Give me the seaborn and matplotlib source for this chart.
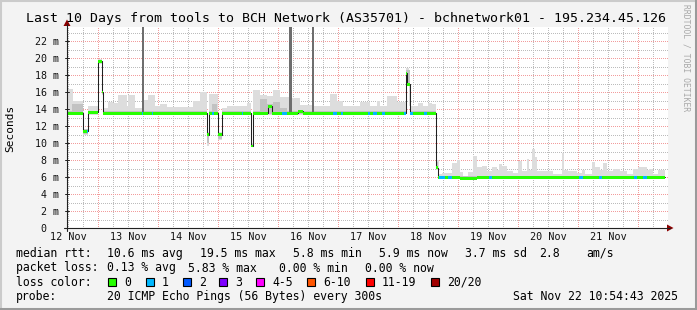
import numpy as np
import pandas as pd
import matplotlib
matplotlib.use("Agg")
import matplotlib.pyplot as plt
import seaborn as sns
from matplotlib.lines import Line2D
from matplotlib.patches import Rectangle, Polygon

# ---------------- data (hours since graph start, values in ms) ----------------
END_H = 239.0
median_t = [0, 6.5, 8.5, 12.5, 13.9, 14.5, 55.8, 56.8, 60.5, 61.9, 73.7, 74.5,
            80.5, 81.9, 92.4, 94.4, 135.6, 136.0, 137.0, 147.6, 148.5, 157.2, 164.0]
median_v = [13.5, 11.4, 13.6, 19.6, 16.0, 13.5, 11.0, 13.5, 11.0, 13.5, 9.65, 13.5,
            14.3, 13.5, 13.75, 13.5, 18.2, 16.9, 13.5, 7.1, 5.95, 5.85, 5.95]

loss1_start = [7.9, 30.0, 33.9, 58.0, 69.9, 86.0, 106.4, 109.6, 120.4, 122.4, 126.0,
               134.8, 137.2, 142.8, 148.8, 152.4, 168.8, 204.8, 212.8, 226.8, 230.4]
loss1_end = [8.5, 30.5, 34.5, 58.8, 70.5, 88.0, 108.0, 110.4, 121.0, 124.0, 127.2,
             135.6, 138.4, 144.0, 151.2, 154.0, 170.0, 206.4, 214.0, 228.0, 232.0]

smoke_hi_t = [0, 2.4, 6.5, 8.5, 12.5, 13.9, 14.5, 16.4, 18.4, 20.4, 24.0, 24.4, 27.2,
              30.4, 32.4, 35.2, 37.2, 40.0, 50.4, 53.2, 55.8, 56.8, 60.5, 61.9, 64.0,
              66.4, 72.0, 73.7, 74.5, 77.2, 80.0, 82.4, 85.2, 88.8, 93.2, 98.4, 105.2,
              108.0, 110.4, 117.2, 121.2, 124.0, 125.2, 128.0, 132.0, 135.6, 136.8,
              140.4, 142.4, 144.4, 146.0, 147.6, 148.8, 150.0, 154.0, 156.0, 157.2,
              158.4, 160.4, 162.4, 164.0, 166.0, 168.0, 170.0, 172.0, 172.8, 174.0,
              176.0, 178.4, 180.4, 182.0, 184.0, 184.8, 186.0, 187.2, 188.0, 194.4,
              198.0, 198.8, 200.4, 204.0, 206.0, 207.2, 210.0, 211.2, 213.2, 214.4,
              216.0, 218.4, 221.2, 224.0, 226.4, 228.4, 232.0, 232.8, 234.4, 236.4]
smoke_hi_v = [16.4, 14.9, 11.7, 14.3, 19.9, 16.4, 14.1, 14.8, 14.7, 15.7, 14.4, 15.6, 14.1,
              15.1, 15.6, 14.4, 14.6, 14.2, 15.0, 16.0, 11.3, 15.8, 11.3, 14.1, 14.4,
              14.3, 14.7, 10.0, 16.2, 15.6, 15.5, 16.2, 15.4, 15.3, 14.5, 14.3, 15.8,
              14.9, 14.3, 14.8, 14.4, 14.9, 14.4, 15.5, 14.8, 18.8, 14.3,
              14.7, 14.4, 14.7, 14.6, 8.0, 6.4, 6.5, 7.7, 8.0, 6.6,
              6.1, 6.6, 8.5, 7.2, 7.3, 6.7, 7.2, 6.8, 7.5, 7.3,
              6.7, 6.5, 7.9, 6.7, 8.1, 6.8, 9.35, 8.4, 6.7, 6.4,
              8.8, 6.8, 6.7, 6.5, 6.8, 6.4, 7.8, 7.2, 6.8, 7.6,
              6.7, 7.0, 6.7, 6.4, 7.0, 7.2, 6.8, 7.0, 6.4, 6.8]

smoke_lo_t = [0, 6.5, 8.5, 12.5, 13.9, 14.5, 55.8, 56.8, 60.5, 61.9, 73.7, 74.5,
              135.6, 137.0, 147.6, 148.5]
smoke_lo_v = [13.3, 10.9, 13.3, 19.3, 15.7, 13.3, 9.6, 13.3, 10.3, 13.3, 9.5, 13.3,
              16.7, 13.3, 6.8, 5.75]

mid_hi_t = [0, 2.0, 6.5, 8.5, 12.5, 13.9, 14.5, 55.8, 56.8, 58.0, 60.0, 60.5, 61.9,
            73.7, 74.5, 77.2, 80.0, 82.4, 85.2, 88.0, 135.6, 137.0, 147.6, 148.5]
mid_hi_v = [13.8, 14.6, 11.6, 13.8, 19.8, 16.2, 13.8, 11.2, 13.8, 14.6, 13.8, 11.2, 13.8,
            9.9, 13.8, 15.2, 14.6, 14.8, 14.1, 13.8, 18.6, 13.8, 7.8, 6.15]
mid_lo_t = [0, 6.5, 8.5, 12.5, 13.9, 14.5, 55.8, 56.8, 60.5, 61.9, 73.7, 74.5,
            135.6, 137.0, 147.6, 148.5]
mid_lo_v = [13.4, 11.1, 13.4, 19.4, 15.8, 13.4, 10.0, 13.4, 10.5, 13.4, 9.6, 13.4,
            16.8, 13.4, 6.9, 5.85]

# smoke columns whose upper pings go beyond the top of the graph
tall_start = [29.9, 88.7, 98.0]
tall_end = [30.8, 90.0, 98.8]
tall_bottom = [13.6, 13.6, 13.6]
tall_top = [24.0, 24.0, 24.0]

ytick_vals = [0, 2, 4, 6, 8, 10, 12, 14, 16, 18, 20, 22]
ytick_labels = ["0  ", "2 m", "4 m", "6 m", "8 m", "10 m", "12 m", "14 m", "16 m",
                "18 m", "20 m", "22 m"]
xtick_vals = [0.6, 24.6, 48.6, 72.6, 96.6, 120.6, 144.6, 168.6, 192.6, 216.6]
xtick_labels = ["12 Nov", "13 Nov", "14 Nov", "15 Nov", "16 Nov", "17 Nov",
                "18 Nov", "19 Nov", "20 Nov", "21 Nov"]

title = "Last 10 Days from tools to BCH Network (AS35701) - bchnetwork01 - 195.234.45.126"
rtt_items = ["median rtt:", "10.6 ms avg", "19.5 ms max", "5.8 ms min", "5.9 ms now",
             "3.7 ms sd", "2.8", "am/s"]
loss_items = ["packet loss:", "0.13 % avg", "5.83 % max", "0.00 % min", "0.00 % now"]
loss_labels = ["0", "1", "2", "3", "4-5", "6-10", "11-19", "20/20"]
loss_colors = ["#26ff00", "#00b8ff", "#0059ff", "#7e00ff", "#ff00ff", "#ff5500",
               "#ff0000", "#a10000"]
probe_items = ["probe:", "20 ICMP Echo Pings (56 Bytes) every 300s",
               "Sat Nov 22 10:54:43 2025"]

# ---------------- style ----------------
sns.set_style("white")
plt.rcParams['font.family'] = ['DejaVu Sans Mono', 'DejaVu Sans']

W, H = 697, 310
fig = plt.figure(figsize=(W / 100, H / 100), dpi=100, facecolor="#f3f3f3")


def fx(px):
    return px / W


def fy(py):
    return 1 - py / H


X0, X1, Y0, Y1 = 67, 668, 228, 27
PX_PER_H = 2.5
PX_PER_MS = 8.5
ax = fig.add_axes([fx(X0), fy(Y0), (X1 - X0) / W, (Y0 - Y1) / H])
ax.set_facecolor("white")
ax.set_xlim(0, (X1 - X0) / PX_PER_H)
ax.set_ylim(0, (Y0 - Y1) / PX_PER_MS)
for s in ax.spines.values():
    s.set_visible(False)

# grid (1px dots)
xmax = (X1 - X0) / PX_PER_H
minor_col = "#bcbcbc"
major_col = "#f29c9c"
dash = (0, (1, 2))
gkw = dict(lw=0.72, ls=dash, antialiased=False)
for k in range(0, 41):
    xv = 0.5 + 6 * k
    if xv < xmax and (k % 4) != 2:
        ax.axvline(xv, color=minor_col, zorder=0.5, **gkw)
for k in range(1, 24):
    if k % 2:
        ax.axhline(k, color=minor_col, zorder=0.5, **gkw)
for k in range(10):
    ax.axvline(12.5 + 24 * k, color=major_col, zorder=0.6, **gkw)
for yv in ytick_vals[1:]:
    ax.axhline(yv, color=major_col, zorder=0.6, **gkw)


def step_eval(tb, vb, grid):
    idx = np.searchsorted(np.asarray(tb), grid, side="right") - 1
    return np.asarray(vb, dtype=float)[idx]


grid = np.unique(np.concatenate([smoke_hi_t, smoke_lo_t, mid_hi_t, mid_lo_t,
                                 median_t, [END_H]]))
ax.fill_between(grid, step_eval(smoke_lo_t, smoke_lo_v, grid),
                step_eval(smoke_hi_t, smoke_hi_v, grid), step="post",
                color="#dddddd", lw=0, zorder=1)
ax.fill_between(grid, step_eval(mid_lo_t, mid_lo_v, grid),
                step_eval(mid_hi_t, mid_hi_v, grid), step="post",
                color="#c2c2c2", lw=0, zorder=1.1)
ax.bar(tall_start, np.array(tall_top) - np.array(tall_bottom),
       width=np.array(tall_end) - np.array(tall_start), bottom=tall_bottom,
       align="edge", color="#6e6e6e", lw=0, zorder=1.2)

# median dark line
df = pd.DataFrame({"h": median_t + [END_H], "v": median_v + [median_v[-1]]})
sns.lineplot(data=df, x="h", y="v", drawstyle="steps-post", color="#202020",
             lw=0.75, ax=ax, estimator=None, sort=False, zorder=2)

# coloured median bars
segs = np.unique(np.concatenate([median_t, loss1_start, loss1_end, [END_H]]))
seg_l = segs[:-1]
seg_w = np.diff(segs)
seg_v = step_eval(median_t, median_v, seg_l)
seg_c = []
for t in seg_l:
    c = loss_colors[0]
    for a, b in zip(loss1_start, loss1_end):
        if a <= t < b:
            c = loss_colors[1]
    seg_c.append(c)
half = 0.17
ax.bar(seg_l, 2 * half, width=seg_w, bottom=seg_v - half, align="edge",
       color=seg_c, lw=0, zorder=3)

# ticks
ax.set_yticks(ytick_vals)
ax.set_yticklabels(ytick_labels)
ax.set_xticks(xtick_vals)
ax.set_xticklabels(xtick_labels)
ax.tick_params(axis="y", length=0, pad=5.6, labelsize=7.2, labelcolor="#111111")
ax.tick_params(axis="x", length=0, pad=3.2, labelsize=7.3, labelcolor="#111111")
ax.set_xlabel("")
ax.set_ylabel("")

# axes lines and arrows (figure pixel coordinates)
axis_col = "#202020"
fig.add_artist(Line2D([fx(64), fx(670)], [fy(228), fy(228)], color=axis_col, lw=0.8))
fig.add_artist(Line2D([fx(67), fx(67)], [fy(231), fy(24)], color=axis_col, lw=0.8))
arrow_col = "#8b0000"
fig.add_artist(Polygon([[fx(667), fy(224.5)], [fx(673.5), fy(228)], [fx(667), fy(231.5)]],
                       closed=True, transform=fig.transFigure, color=arrow_col, lw=0))
fig.add_artist(Polygon([[fx(63.5), fy(26)], [fx(67), fy(19.5)], [fx(70.5), fy(26)]],
                       closed=True, transform=fig.transFigure, color=arrow_col, lw=0))
for yv in ytick_vals[1:]:
    py = Y0 - yv * PX_PER_MS
    fig.add_artist(Line2D([fx(65), fx(69)], [fy(py), fy(py)], color=axis_col, lw=0.7))

# texts
fig.text(fx(346.5), fy(18.5), title, ha="center", va="center", fontsize=9.5, color="black")
fig.text(fx(10), fy(128), "Seconds", rotation=90, ha="center", va="center",
         fontsize=8, color="black")
fig.text(fx(686), fy(4), "RRDTOOL / TOBI OETIKER", rotation=270, ha="center", va="top",
         fontsize=5.8, color="#a8a8a8")

LFS = 8.3
rtt_x = [16, 107.3, 200, 293.3, 379.3, 465, 539, 586.7]
for t, x in zip(rtt_items, rtt_x):
    fig.text(fx(x), fy(253.5), t, ha="left", va="center", fontsize=LFS, color="black")
loss_x = [16, 107.3, 188, 279.3, 365]
for t, x in zip(loss_items, loss_x):
    fig.text(fx(x), fy(268), t, ha="left", va="center", fontsize=LFS, color="black")
fig.text(fx(16), fy(282), "loss color:", ha="left", va="center", fontsize=LFS, color="black")
box_x = [108.3, 145.7, 182.7, 219.3, 256, 307, 366, 430.7]
for lab, col, bx in zip(loss_labels, loss_colors, box_x):
    fig.add_artist(Rectangle((fx(bx), fy(286)), 8 / W, 8 / H, transform=fig.transFigure,
                             facecolor=col, edgecolor="black", lw=0.8))
    fig.text(fx(bx + 16), fy(282), lab, ha="left", va="center", fontsize=LFS, color="black")
probe_x = [16, 107.3, 513.3]
for t, x in zip(probe_items, probe_x):
    fig.text(fx(x), fy(296.5), t, ha="left", va="center", fontsize=LFS, color="black")

# frame
fig.add_artist(Line2D([0, 1], [fy(0.5), fy(0.5)], color="#cbcbcb", lw=1.5))
fig.add_artist(Line2D([fx(0.5), fx(0.5)], [0, 1], color="#cbcbcb", lw=1.5))
fig.add_artist(Line2D([0, 1], [fy(309), fy(309)], color="#9a9a9a", lw=2.2))
fig.add_artist(Line2D([fx(696), fx(696)], [0, 1], color="#9a9a9a", lw=2.2))

fig.savefig("out.png", dpi=100, facecolor=fig.get_facecolor())
